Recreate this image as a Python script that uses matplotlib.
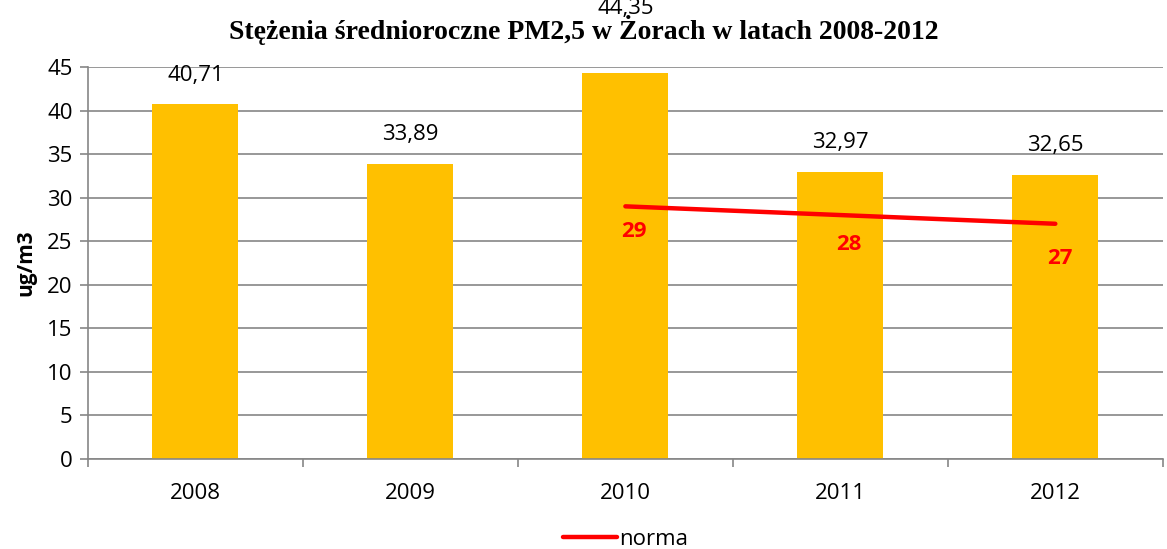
import matplotlib.pyplot as plt
import numpy as np

years = ["2008", "2009", "2010", "2011", "2012"]
pm25 = [40.71, 33.89, 44.35, 32.97, 32.65]
norma_years = ["2010", "2011", "2012"]
norma = [29, 28, 27]

bar_color = "#FFC000"
grid_color = "#868686"

fig = plt.figure(figsize=(11.67, 5.49), dpi=100)
ax = fig.add_axes([0.0754, 0.164, 0.921, 0.714])

x = np.arange(len(years))
ax.bar(x, pm25, width=0.40, color=bar_color, zorder=2)
# excel pushed the tallest label up under the title
bar_label_dy = [21, 21, 46, 21, 21]
for xi, v, dy in zip(x, pm25, bar_label_dy):
    ax.annotate(f"{v:.2f}".replace(".", ","), (xi, v), xytext=(0, dy),
                textcoords="offset points", ha="center", va="center",
                fontsize=16, family="Open Sans", zorder=1)

nx = [years.index(y) for y in norma_years]
ax.plot(nx, norma, color="#FF0000", lw=3.2, solid_capstyle="round",
        zorder=3, label="norma")
label_offsets = [(6, -18), (6, -21), (3, -25)]
for xi, v, off in zip(nx, norma, label_offsets):
    ax.annotate(str(v), (xi, v), xytext=off, textcoords="offset points",
                ha="center", va="center", fontsize=16, fontweight="bold",
                color="#FF0000", family="Open Sans")

ax.set_xlim(-0.5, len(years) - 0.5)
ax.set_ylim(0, 45)
ax.set_yticks(range(0, 46, 5))
ax.set_xticks(x)
ax.set_xticklabels(years)
ax.set_xticks(np.arange(-0.5, len(years), 1), minor=True)
ax.tick_params(axis="x", which="major", length=0, pad=17, labelsize=16)
ax.tick_params(axis="x", which="minor", length=6, color=grid_color, width=1.2)
ax.tick_params(axis="y", length=6, color=grid_color, width=1.2, labelsize=16, pad=5)
for lab in ax.get_xticklabels() + ax.get_yticklabels():
    lab.set_family("Open Sans")

ax.grid(axis="y", color=grid_color, lw=1.2, zorder=0)
ax.set_axisbelow(True)
for s in ["top", "right"]:
    ax.spines[s].set_visible(False)
for s in ["left", "bottom"]:
    ax.spines[s].set_color(grid_color)
    ax.spines[s].set_linewidth(1.2)

ax.set_ylabel("ug/m3", fontsize=15, fontweight="bold", family="Open Sans")
ax.yaxis.set_label_coords(-0.048, 0.5)

fig.text(0.5, 0.945, "Stężenia średnioroczne PM2,5 w Żorach w latach 2008-2012",
         ha="center", va="center", fontsize=20, fontweight="bold",
         family="Liberation Serif", zorder=5)

fig.legend(loc="lower center", bbox_to_anchor=(0.536, -0.038), frameon=False,
           prop={"family": "Open Sans", "size": 16}, handlelength=2.4,
           handletextpad=0.1)

fig.savefig("out.png", dpi=100)
